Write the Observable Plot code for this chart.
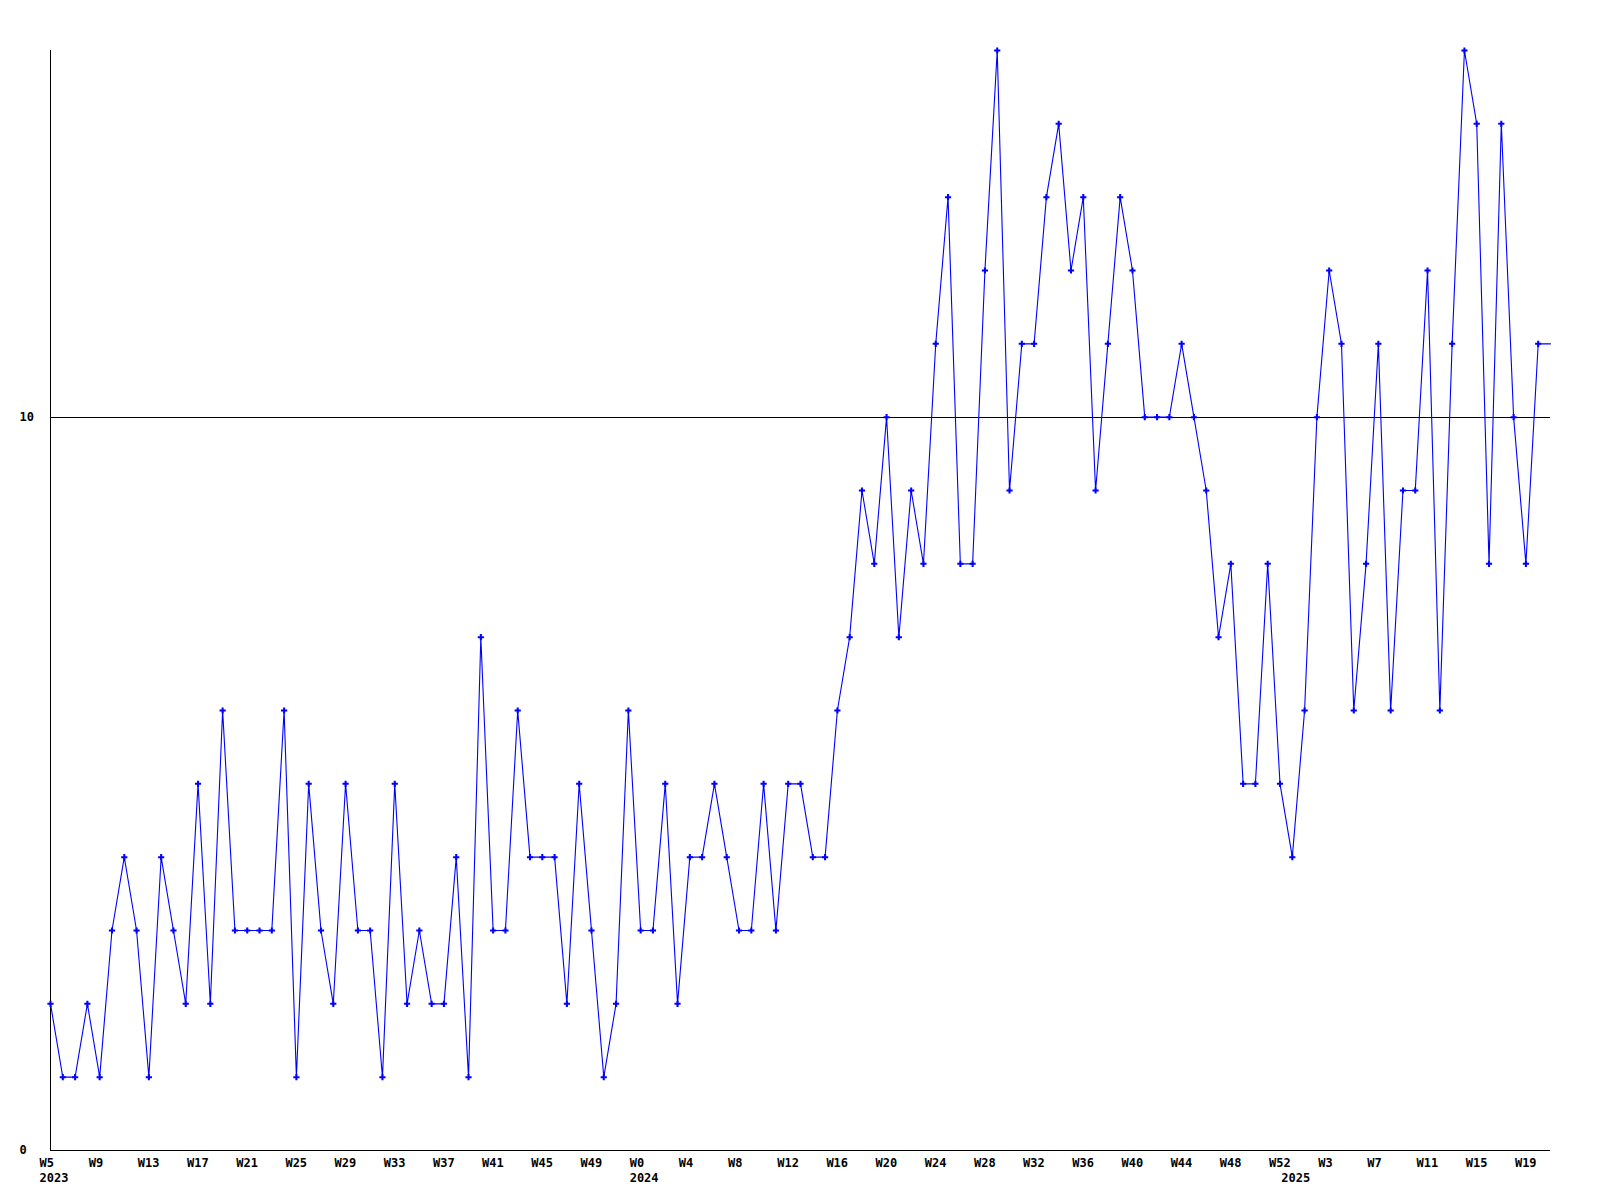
<!DOCTYPE html>
<html>
<head>
<meta charset="utf-8">
<script src="https://cdn.jsdelivr.net/npm/d3@7"></script>
<script src="https://cdn.jsdelivr.net/npm/@observablehq/plot@0.6"></script>
<style>
  html, body { margin: 0; padding: 0; background: #ffffff; }
  #chart { width: 1600px; height: 1200px; }
</style>
</head>
<body>
<div id="chart"></div>
<script>
// Week categories (one per weekly sample)
const weekLabels = [
  "W5","W6","W7","W8","W9","W10","W11","W12","W13","W14","W15","W16","W17","W18","W19","W20",
  "W21","W22","W23","W24","W25","W26","W27","W28","W29","W30","W31","W32","W33","W34","W35","W36",
  "W37","W38","W39","W40","W41","W42","W43","W44","W45","W46","W47","W48","W49","W50","W51","W52",
  "W0","W1","W2","W3","W4","W5","W6","W7","W8","W9","W10","W11","W12","W13","W14","W15","W16",
  "W17","W18","W19","W20","W21","W22","W23","W24","W25","W26","W27","W28","W29","W30","W31","W32",
  "W33","W34","W35","W36","W37","W38","W39","W40","W41","W42","W43","W44","W45","W46","W47","W48",
  "W49","W50","W51","W52",
  "W0","W1","W2","W3","W4","W5","W6","W7","W8","W9","W10","W11","W12","W13","W14","W15","W16",
  "W17","W18","W19","W20"
];

// Weekly values
const values = [
  2,1,1,2,1,3,4,3,1,4,
  3,2,5,2,6,3,3,3,3,6,
  1,5,3,2,5,3,3,1,5,2,
  3,2,2,4,1,7,3,3,6,4,
  4,4,2,5,3,1,2,6,3,3,
  5,2,4,4,5,4,3,3,5,3,
  5,5,4,4,6,7,9,8,10,7,
  9,8,11,13,8,8,12,15,9,11,
  11,13,14,12,13,9,11,13,12,10,
  10,10,11,10,9,7,8,5,5,8,
  5,4,6,10,12,11,6,8,11,6,
  9,9,12,6,11,15,14,8,14,10,
  8,11
];

// Year labels placed under the first week of each year
const yearLabels = ["2023", "2024", "2025"];
const yearStartIndex = [0, 48, 101];

// Y tick values
const yTicks = [0, 10];
const yMax = 15;
const referenceLine = [10];

// Build tables for the library
const points = values.map((v, i) => ({ i, v, week: weekLabels[i] }));
// line continues to the right edge holding the latest value
const lineData = points.concat([{ i: values.length, v: values[values.length - 1] }]);
const xTicks = d3.range(0, values.length, 4);
const years = yearLabels.map((y, k) => ({ year: y, i: yearStartIndex[k] }));

const font = "'DejaVu Sans Mono', 'Liberation Mono', monospace";

const chart = Plot.plot({
  width: 1600,
  height: 1200,
  marginLeft: 50,
  marginRight: 50,
  marginTop: 50,
  marginBottom: 50,
  style: { fontFamily: font, fontSize: "12px", fontWeight: "bold", color: "#000", background: "#fff", overflow: "visible" },
  x: { type: "linear", domain: [0, values.length], axis: null, label: null },
  y: { domain: [0, yMax], axis: null, label: null },
  marks: [
    Plot.ruleY(referenceLine, { stroke: "#000", strokeWidth: 1, shapeRendering: "crispEdges" }),
    Plot.ruleY([0], { stroke: "#000", strokeWidth: 1, shapeRendering: "crispEdges" }),
    Plot.ruleX([0], { stroke: "#000", strokeWidth: 1, shapeRendering: "crispEdges" }),
    Plot.axisY({
      ticks: yTicks,
      label: null,
      tickSize: 0,
      tickPadding: 31,
      textAnchor: "start",
      fontFamily: font,
      fontSize: 12,
      fontWeight: "bold",
      fill: "#000"
    }),
    Plot.axisX({
      ticks: xTicks,
      label: null,
      tickFormat: (i) => weekLabels[i],
      tickSize: 0,
      tickPadding: 8,
      textAnchor: "start",
      dx: -11,
      fontFamily: font,
      fontSize: 12,
      fontWeight: "bold",
      fill: "#000"
    }),
    Plot.text(years, {
      x: "i",
      text: "year",
      frameAnchor: "bottom",
      textAnchor: "start",
      lineAnchor: "middle",
      dx: -11,
      dy: 28,
      fontFamily: font,
      fontSize: 12,
      fontWeight: "bold",
      fill: "#000"
    }),
    Plot.line(lineData, { x: "i", y: "v", stroke: "#0000ff", strokeWidth: 1.1 }),
    Plot.dot(points, { x: "i", y: "v", symbol: "cross", r: 2.6, fill: "#0000ff", stroke: "none" })
  ]
});

document.getElementById("chart").appendChild(chart);
</script>
</body>
</html>
